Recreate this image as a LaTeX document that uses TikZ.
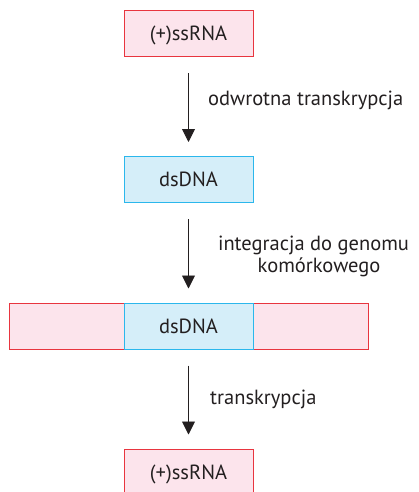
\documentclass[tikz,border=0pt]{standalone}
\usepackage{fontspec}
\setmainfont{PT Sans}
\usetikzlibrary{arrows.meta}
\definecolor{rnafill}{HTML}{FCE4EC}
\definecolor{rnaline}{HTML}{E8353F}
\definecolor{dnafill}{HTML}{D5EEF9}
\definecolor{dnaline}{HTML}{2BB7EC}
\definecolor{txt}{HTML}{231F20}
\tikzset{
  boxbase/.style={line width=1pt, minimum height=46pt, inner sep=0pt, text height=14pt, text depth=0pt, font=\fontsize{20.5}{24}\selectfont, text=txt},
  rnabox/.style={boxbase, draw=rnaline, fill=rnafill},
  dnabox/.style={boxbase, draw=dnaline, fill=dnafill},
  flow/.style={draw=txt, line width=0.9pt, -{Triangle[width=13pt,length=13pt]}, shorten <=16pt, shorten >=14pt},
  lbl/.style={font=\fontsize{20.5}{24}\selectfont, text=txt, inner sep=0pt}
}
\begin{document}
\begin{tikzpicture}[x=1pt,y=-1pt]
\useasboundingbox (0,0) rectangle (418,492);
\clip (0,0) rectangle (418,492);
\node[rnabox, minimum width=129pt] (rna1) at (188.5,34) {(+)ssRNA};
\node[dnabox, minimum width=129pt] (dna1) at (188.5,179.5) {dsDNA};
\node[rnabox, minimum width=359pt] (host) at (188.5,326) {};
\node[dnabox, minimum width=129pt] (dna2) at (188.5,326) {dsDNA};
\node[rnabox, minimum width=129pt] (rna2) at (188.5,472) {(+)ssRNA};
\draw[flow] (rna1.south) -- (dna1.north);
\draw[flow] (dna1.south) -- (host.north);
\draw[flow] (host.south) -- (rna2.north);
\node[lbl, anchor=base west] (l1) at (208,106) {odwrotna transkrypcja};
\node[lbl, anchor=base] (l2a) at (313.5,250) {integracja do genomu};
\node[lbl, anchor=base] (l2b) at (319,272) {komórkowego};
\node[lbl, anchor=base west] (l3) at (210,404) {transkrypcja};
\end{tikzpicture}
\end{document}
